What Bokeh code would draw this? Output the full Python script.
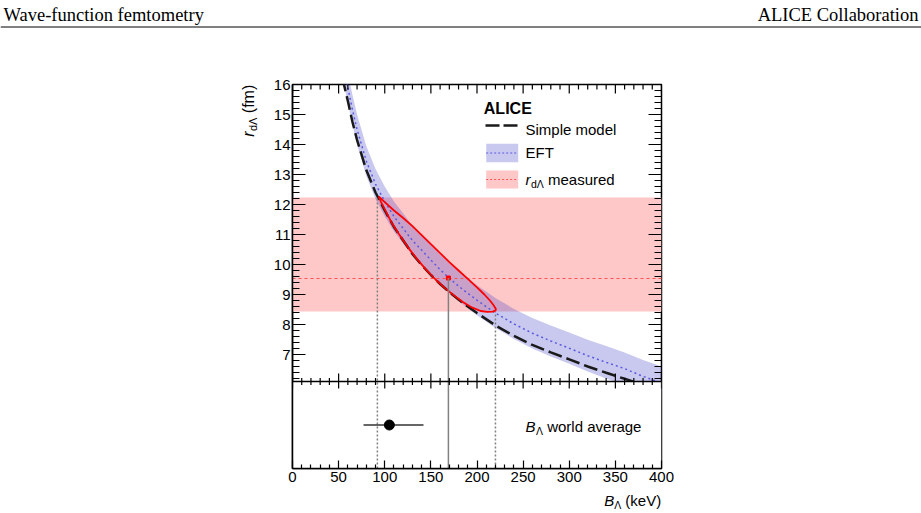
from math import pi
from bokeh.plotting import figure
from bokeh.layouts import column, row
from bokeh.models import Range1d, LinearAxis, FixedTicker, Label
from bokeh.core.properties import value
from bokeh.embed import file_html
from bokeh.resources import INLINE

# ---------------- data ----------------
B_GRID = [50, 55, 60, 65, 70, 80, 90, 100, 110, 120, 130, 140, 150, 160, 170,
          180, 190, 200, 220, 240, 260, 280, 300, 320, 340, 360, 380, 400]
SIMPLE_R = [16.85, 16.1, 15.45, 14.75, 14.15, 13.15, 12.4, 11.8, 11.25, 10.8, 10.35,
            9.98, 9.65, 9.35, 9.08, 8.83, 8.6, 8.38, 7.97, 7.62, 7.32, 7.07, 6.84,
            6.6, 6.39, 6.19, 5.98, 5.82]
EFT_R = [17.35, 16.58, 15.9, 15.15, 14.5, 13.45, 12.68, 12.1, 11.6, 11.2, 10.8,
         10.48, 10.15, 9.83, 9.54, 9.28, 9.04, 8.81, 8.38, 8.02, 7.71, 7.45, 7.21,
         6.96, 6.74, 6.53, 6.27, 6.05]
EFT_LO = [16.85, 16.08, 15.4, 14.65, 14.0, 12.95, 12.18, 11.6, 11.1, 10.7, 10.3,
          9.98, 9.65, 9.33, 9.04, 8.78, 8.54, 8.31, 7.88, 7.52, 7.2, 6.93, 6.69,
          6.43, 6.2, 5.99, 5.72, 5.5]
EFT_HI = [17.85, 17.08, 16.4, 15.65, 15.0, 13.95, 13.18, 12.6, 12.1, 11.7, 11.3,
          10.98, 10.65, 10.33, 10.04, 9.78, 9.54, 9.31, 8.88, 8.52, 8.22, 7.97, 7.73,
          7.49, 7.28, 7.07, 6.82, 6.6]
CONT_B = [93.5, 100, 110, 120, 130, 140, 150, 160, 170, 180, 190, 200, 208, 214, 218,
          220.5, 220, 217, 211, 204, 195, 185, 175, 165, 155, 145, 135, 125, 115, 107,
          100, 96, 93.5]
CONT_R = [12.27, 12.08, 11.8, 11.55, 11.28, 10.98, 10.68, 10.38, 10.08, 9.8, 9.52,
          9.24, 9.0, 8.8, 8.64, 8.52, 8.46, 8.43, 8.42, 8.45, 8.56, 8.74, 8.97, 9.22,
          9.5, 9.82, 10.18, 10.58, 11.03, 11.42, 11.84, 12.08, 12.27]
R_MEAS, R_MEAS_LO, R_MEAS_HI = 9.55, 8.42, 12.24
B_FIT, B_FIT_LO, B_FIT_HI = 169, 92, 220
WA_B, WA_LO, WA_HI = 105, 77, 142

X_TICKS = [0, 50, 100, 150, 200, 250, 300, 350, 400]
X_MINOR = [v for v in range(0, 401, 10) if v % 50]
Y_TICKS = [7, 8, 9, 10, 11, 12, 13, 14, 15, 16]
Y_MINOR = [round(6.2 + 0.2 * i, 1) for i in range(49)
           if abs((6.2 + 0.2 * i) - round(6.2 + 0.2 * i)) > 1e-6]

# ---------------- geometry ----------------
W, H = 921, 513
HEAD_H = 30            # header strip height
YT_W = 264             # y-title strip width
XT_H = 23              # x-title strip height
MAIN_W = W - YT_W
MAIN_H = H - HEAD_H - XT_H
ML, MR, MT, MB = 28, 260, 54, 22
FL = YT_W + ML         # frame left on the page
FT = HEAD_H + MT       # frame top on the page
FH = MAIN_H - MT - MB  # frame height
X0, X1 = 0, 400
Y_TOP = 16.0
Y_SPLIT = 6.1
PXY = 30.0
Y_BOT = Y_TOP - FH / PXY
PXX = (MAIN_W - ML - MR) / (X1 - X0)
WA_Y = (Y_BOT + Y_SPLIT) / 2
BASE_FIX = 0.23        # baseline correction, fraction of the font size


def dx(px):
    return X0 + (px - FL) / PXX


def dy(py):
    return Y_TOP - (py - FT) / PXY


SANS = "Liberation Sans"
SERIF = "Liberation Serif"
PINK = "#ffc8c8"
BAND = "#3c3cc8"
BAND_A = 0.28
BLUE = "#5a5ae0"
RED = "#ff0000"
GREY = "#808080"

p = figure(width=MAIN_W, height=MAIN_H, x_range=Range1d(X0, X1), y_range=Range1d(Y_BOT, Y_TOP),
           output_backend="svg", toolbar_location=None,
           min_border_left=ML, min_border_right=MR, min_border_top=MT, min_border_bottom=MB,
           x_axis_location=None, y_axis_location=None)
p.outline_line_color = "black"
p.outline_line_width = 1.5
p.background_fill_color = "white"
p.border_fill_color = "white"
p.grid.visible = False

xt = FixedTicker(ticks=X_TICKS, minor_ticks=X_MINOR)
yt = FixedTicker(ticks=Y_TICKS, minor_ticks=Y_MINOR)


def style(ax, maj, mnr, standoff):
    ax.major_tick_in = maj
    ax.major_tick_out = 0
    ax.minor_tick_in = mnr
    ax.minor_tick_out = 0
    ax.axis_line_width = 1.5
    ax.axis_line_color = "black"
    ax.major_tick_line_width = 1.2
    ax.minor_tick_line_width = 1.2
    ax.major_tick_line_color = "black"
    ax.minor_tick_line_color = "black"
    ax.major_label_text_font = SANS
    ax.major_label_text_font_size = "15px"
    ax.major_label_text_color = "black"
    ax.major_label_standoff = standoff


ax_b = LinearAxis(ticker=xt)
style(ax_b, 8, 4, 3)
ax_l = LinearAxis(ticker=yt)
style(ax_l, 13, 7, 2)
p.add_layout(ax_b, "below")
p.add_layout(ax_l, "left")

# ---------------- upper panel ----------------
p.hstrip(y0=[R_MEAS_LO], y1=[R_MEAS_HI], fill_color=PINK, line_color=None)
p.varea(x=B_GRID, y1=EFT_LO, y2=EFT_HI, fill_color=BAND, fill_alpha=BAND_A)
p.hspan(y=[R_MEAS], line_color="#ff5050", line_width=1, line_dash="3 3")
p.line(B_GRID, EFT_R, line_color=BLUE, line_width=1.5, line_dash="2 3")
p.line(B_GRID, SIMPLE_R, line_color="#1a1a1a", line_width=2.5, line_dash="14 5")
p.line(CONT_B, CONT_R, line_color=RED, line_width=1.8)
p.scatter([B_FIT], [R_MEAS], marker="square", size=4, color=RED)

# white cover below the split so that curves stay in the upper panel
p.hstrip(y0=[Y_BOT], y1=[Y_SPLIT], fill_color="white", line_color=None)

# vertical lines through both panels
p.segment(x0=[B_FIT_LO, B_FIT_HI], y0=[Y_BOT, Y_BOT], x1=[B_FIT_LO, B_FIT_HI],
          y1=[R_MEAS_HI, R_MEAS_LO], line_color=GREY, line_width=1.5, line_dash="2 2")
p.segment(x0=[B_FIT], y0=[Y_BOT], x1=[B_FIT], y1=[R_MEAS], line_color=GREY, line_width=1.5)

# split line with ticks, top-edge ticks, right-edge ticks
nX, nXm, nY, nYm = len(X_TICKS), len(X_MINOR), len(Y_TICKS), len(Y_MINOR)
p.hspan(y=[Y_SPLIT], line_color="black", line_width=1.5)
p.segment(x0=X_TICKS, x1=X_TICKS, y0=[Y_SPLIT - 7 / PXY] * nX,
          y1=[Y_SPLIT + 8 / PXY] * nX, line_color="black", line_width=1.2)
p.segment(x0=X_MINOR, x1=X_MINOR, y0=[Y_SPLIT - 3.5 / PXY] * nXm,
          y1=[Y_SPLIT + 3.5 / PXY] * nXm, line_color="black", line_width=1.2)
p.segment(x0=X_TICKS, x1=X_TICKS, y0=[Y_TOP] * nX, y1=[Y_TOP - 9 / PXY] * nX,
          line_color="black", line_width=1.2)
p.segment(x0=X_MINOR, x1=X_MINOR, y0=[Y_TOP] * nXm, y1=[Y_TOP - 5 / PXY] * nXm,
          line_color="black", line_width=1.2)
p.segment(x0=[X1] * nY, x1=[X1 - 13 / PXX] * nY, y0=Y_TICKS, y1=Y_TICKS,
          line_color="black", line_width=1.2)
p.segment(x0=[X1] * nYm, x1=[X1 - 7 / PXX] * nYm, y0=Y_MINOR, y1=Y_MINOR,
          line_color="black", line_width=1.2)

# ---------------- lower panel ----------------
p.segment(x0=[WA_LO], x1=[WA_HI], y0=[WA_Y], y1=[WA_Y], line_color="#333333", line_width=1.5)
p.scatter([WA_B], [WA_Y], size=10, color="black")

# ---------------- legend ----------------
LG_X0, LG_X1 = 485.7, 517.7
p.line([dx(485), dx(517)], [dy(125), dy(125)], line_color="#1a1a1a", line_width=2.5, line_dash="14 4")
p.quad(left=[dx(LG_X0)], right=[dx(LG_X1)], bottom=[dy(161.7)], top=[dy(143.3)],
       fill_color=BAND, fill_alpha=BAND_A, line_color=None)
p.line([dx(LG_X0), dx(LG_X1)], [dy(152.5), dy(152.5)], line_color=BLUE, line_width=1, line_dash="2 2")
p.quad(left=[dx(LG_X0)], right=[dx(LG_X1)], bottom=[dy(188)], top=[dy(170)],
       fill_color=PINK, line_color=None)
p.line([dx(LG_X0), dx(LG_X1)], [dy(179), dy(179)], line_color="#ff5050", line_width=1, line_dash="2 2")


def lab(text, xpx, ypx, size, style="normal", align="left"):
    p.add_layout(Label(x=dx(xpx), y=dy(ypx - BASE_FIX * size), text=text, text_font=SANS,
                       text_font_size=f"{size}px", text_font_style=style,
                       text_align=align, text_baseline="alphabetic", text_color="black"))


lab("ALICE", 483.3, 111.7, 16, style="bold")
lab("Simple model", 525, 132.3, 15)
lab("EFT", 525, 155.5, 15)
lab("r", 525, 182.3, 15, style="italic")
lab("dΛ", 530.5, 185.5, 10.5)
lab("measured", 547.5, 182.3, 15)

lab("B", 525, 429.3, 15, style="italic")
lab("Λ", 535.5, 432.5, 10.5)
lab("world average", 546.7, 429.3, 15)


# ---------------- strips with texts outside the frame ----------------
# strip coordinates: x = page pixel, y = minus page pixel (so the range is not reversed)
def strip(w, h, left, top, bt=0, bb=0, ftop=None, fbot=None):
    ftop = top if ftop is None else ftop
    fbot = top + h if fbot is None else fbot
    f = figure(width=w, height=h, x_range=Range1d(left, left + w), y_range=Range1d(-fbot, -ftop),
               output_backend="svg", toolbar_location=None,
               min_border_left=0, min_border_right=0, min_border_top=bt, min_border_bottom=bb,
               x_axis_location=None, y_axis_location=None)
    f.outline_line_color = None
    f.grid.visible = False
    f.border_fill_color = "white"
    f.background_fill_color = "white"
    return f


def txt(f, x, y, s, size, font=SANS, style="normal", align="left"):
    f.text(x=[x], y=[-(y - BASE_FIX * size)], text=[s], text_font=value(font),
           text_font_size=value(f"{size}px"), text_font_style=style, text_align=align,
           text_baseline="alphabetic", text_color="black")


def vtxt(f, x, y, s, size, style="normal"):
    # rotated text that starts at (x, y) and reads upwards
    f.add_layout(Label(x=x - BASE_FIX * size, y=-y, text=s, text_font=SANS,
                       text_font_size=f"{size}px", text_font_style=style, text_align="left",
                       text_baseline="alphabetic", angle=pi / 2, text_color="black"))


head = strip(W, HEAD_H, 0, 0)
txt(head, 3, 19, "Wave-function femtometry", 18.5, font=SERIF)
txt(head, 918, 19, "ALICE Collaboration", 18.5, font=SERIF, align="right")
head.line([0, W], [-26.5, -26.5], line_color="black", line_width=1)

# the y-title strip's frame is aligned with the main frame by the row layout
ytit = strip(YT_W, MAIN_H, 0, HEAD_H, bt=MT, bb=MB, ftop=FT, fbot=FT + FH)
vtxt(ytit, 251.5, 136.3, "r", 16, style="italic")
vtxt(ytit, 255.0, 130.6, "dΛ", 11)
vtxt(ytit, 251.5, 112.7, "(fm)", 16)

xtit = strip(W, XT_H, 0, HEAD_H + MAIN_H)
txt(xtit, 660.7, 503.3, "(keV)", 15, align="right")
txt(xtit, 620.7, 506.5, "Λ", 10.5, align="right")
txt(xtit, 613.7, 503.3, "B", 15, style="italic", align="right")

layout = column(head, row(ytit, p, spacing=0), xtit, spacing=0)
open("out.html", "w").write(file_html(layout, INLINE))
